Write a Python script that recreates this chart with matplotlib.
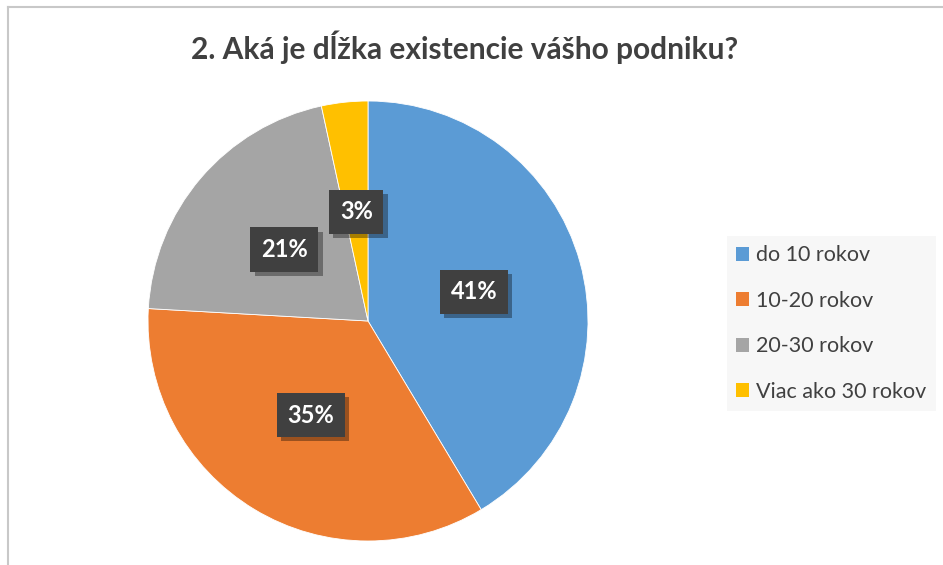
import matplotlib.pyplot as plt
import matplotlib.patheffects as pe
import numpy as np

plt.rcParams["font.family"] = ["Lato", "DejaVu Sans"]

categories = ["do 10 rokov", "10-20 rokov", "20-30 rokov", "Viac ako 30 rokov"]
shares = [41.4, 34.5, 20.7, 3.4]
pct_labels = ["41%", "35%", "21%", "3%"]
colors = ["#5B9BD5", "#ED7D31", "#A5A5A5", "#FFC000"]

W, H = 943, 565
fig = plt.figure(figsize=(W / 100, H / 100), dpi=100)
fig.patch.set_facecolor("white")

# chart frame (top and left edges visible in the reference)
fig.add_artist(plt.Line2D([8 / W, 1], [1 - 7 / H, 1 - 7 / H], color="#c8c8c8", lw=1.5))
fig.add_artist(plt.Line2D([8 / W, 8 / W], [0, 1 - 7 / H], color="#c8c8c8", lw=1.5))

cx, cy, r = 368, 321, 220
ax = fig.add_axes([(cx - r) / W, (H - cy - r) / H, 2 * r / W, 2 * r / H])
wedges, texts = ax.pie(
    shares,
    colors=colors,
    startangle=90,
    counterclock=False,
    radius=1.0,
    wedgeprops=dict(edgecolor="white", linewidth=0.6),
)
ax.set_xlim(-1, 1)
ax.set_ylim(-1, 1)
ax.set_aspect("equal")
ax.axis("off")

for w, lab in zip(wedges, pct_labels):
    ang = np.deg2rad((w.theta1 + w.theta2) / 2)
    t = ax.text(
        0.5 * np.cos(ang), 0.5 * np.sin(ang), lab,
        ha="center", va="center", color="white", fontsize=17, fontweight="bold",
        bbox=dict(boxstyle="square,pad=0.45", fc="#404040", ec="none"),
    )
    t.get_bbox_patch().set_path_effects(
        [pe.SimplePatchShadow(offset=(3, -3), shadow_rgbFace="#000000", alpha=0.35), pe.Normal()]
    )

fig.text(465 / W, 1 - 47 / H, "2. Aká je dĺžka existencie vášho podniku?",
         ha="center", va="center", fontsize=21.5, fontweight="bold", color="#404040")

leg = fig.legend(
    wedges, categories,
    loc="upper left", bbox_to_anchor=(716 / W, 1 - 225 / H),
    frameon=True, fontsize=15.5, handlelength=0.6, handleheight=0.6,
    labelspacing=1.18, borderpad=0.45, handletextpad=0.3,
    labelcolor="#404040", fancybox=False,
)
leg.get_frame().set_facecolor("#f5f5f5")
leg.get_frame().set_edgecolor("none")
for h in leg.legend_handles:
    h.set_edgecolor("none")

fig.savefig("out.png", dpi=100)
